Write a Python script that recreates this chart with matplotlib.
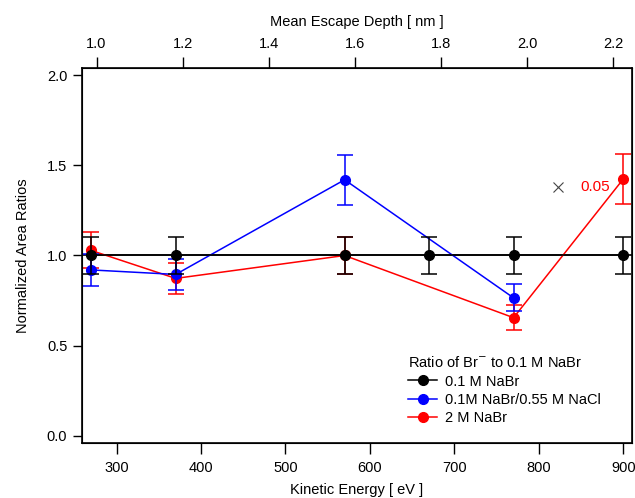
import matplotlib
matplotlib.use("Agg")
import matplotlib.pyplot as plt
from matplotlib.lines import Line2D

plt.rcParams['font.family'] = ['Liberation Sans', 'DejaVu Sans']
plt.rcParams['font.size'] = 10.5

ke_black = [270, 370, 570, 670, 770, 900]
y_black = [1.0, 1.0, 1.0, 1.0, 1.0, 1.0]
e_black = [0.1, 0.1, 0.1, 0.1, 0.1, 0.1]

ke_blue = [270, 370, 570, 770]
y_blue = [0.92, 0.895, 1.42, 0.765]
e_blue = [0.09, 0.085, 0.14, 0.075]

ke_red = [270, 370, 570, 770, 900]
y_red = [1.028, 0.873, 1.0, 0.655, 1.425]
e_red = [0.10, 0.085, 0.10, 0.07, 0.14]

labels = ['0.1 M NaBr', '0.1M NaBr/0.55 M NaCl', '2 M NaBr']
colors = ['black', '#0000ff', '#ff0000']
legend_title = 'Ratio of Br$^{-}$ to 0.1 M NaBr'

x_ticks = [300, 400, 500, 600, 700, 800, 900]
y_ticks = [0.0, 0.5, 1.0, 1.5, 2.0]
top_ticks = [1.0, 1.2, 1.4, 1.6, 1.8, 2.0, 2.2]

fig = plt.figure(figsize=(6.35, 4.98), dpi=100)
ax = fig.add_axes([0.129, 0.1104, 0.866, 0.7531])

ax.axhline(1.0, color='black', lw=1.2, zorder=1)
kw = dict(marker='o', ms=7, lw=1.1, capsize=6, capthick=1.1, elinewidth=1.1)
ax.errorbar(ke_red, y_red, yerr=e_red, color=colors[2], zorder=2, **kw)
ax.errorbar(ke_blue, y_blue, yerr=e_blue, color=colors[1], zorder=3, **kw)
ax.errorbar(ke_black, y_black, yerr=e_black, color=colors[0], zorder=4, **kw)

ax.plot([823], [1.382], marker='x', ms=7, color='#444444', ls='none', mew=0.8)
ax.text(849, 1.382, '0.05', color='#ff0000', fontsize=11, va='center', ha='left')

ax.set_xlim(259, 910)
ax.set_ylim(-0.04, 2.04)
ax.set_xticks(x_ticks)
ax.set_yticks(y_ticks)
ax.set_yticklabels([f'{v:.1f}' for v in y_ticks])
ax.set_xlabel('Kinetic Energy [ eV ]', labelpad=6)
ax.set_ylabel('Normalized Area Ratios', labelpad=12)
ax.tick_params(axis='x', direction='out', length=8, width=1, pad=5)
ax.tick_params(axis='y', direction='out', length=6.5, width=1, pad=4, right=False)
for s in ax.spines.values():
    s.set_linewidth(1.2)

ax2 = ax.twiny()
ax2.set_xlim(0.966, 2.243)
ax2.set_xticks(top_ticks)
ax2.set_xticklabels([f'{v:.1f}' for v in top_ticks])
ax2.set_xlabel('Mean Escape Depth [ nm ]', labelpad=8)
ax2.tick_params(direction='out', length=8, width=1, pad=4)

handles = [Line2D([], [], color=c, marker='o', ms=7, lw=1.1) for c in colors]
leg = ax.legend(handles, labels, title=legend_title,
                loc='lower left', bbox_to_anchor=(0.575, 0.02), frameon=False,
                fontsize=10.5, title_fontsize=10.5, handlelength=2.0, handletextpad=0.5,
                labelspacing=0.3, borderpad=0.2)
leg._legend_box.align = 'left'

fig.savefig('out.png', dpi=100)
